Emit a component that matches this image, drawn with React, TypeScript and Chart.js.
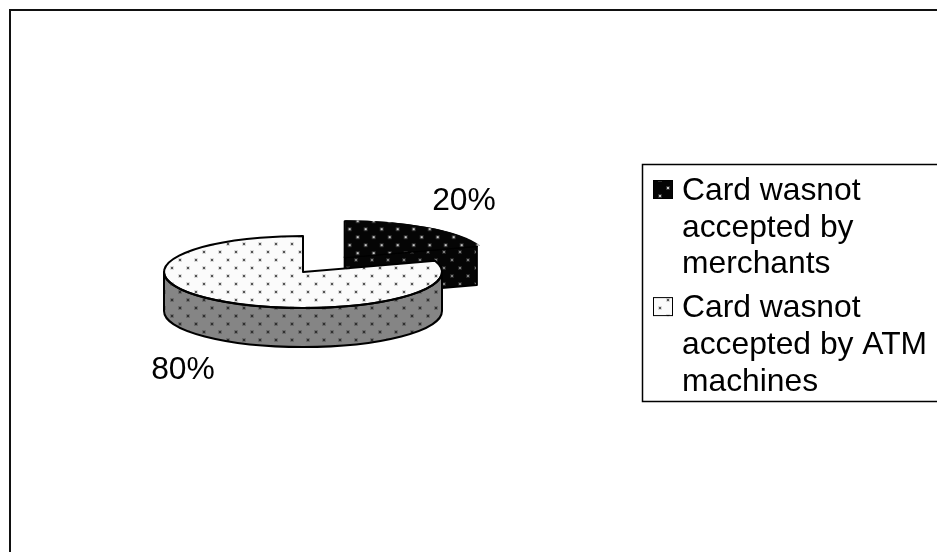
import React, { useEffect, useRef } from "react";
import { Chart, registerables } from "chart.js";

Chart.register(...registerables);

const categories = ["Card wasnot accepted by merchants", "Card wasnot accepted by ATM machines"];
const shares = [20, 80];
const slicePull = [204, 0];
const FONT = '31.8px "Liberation Sans", Arial, sans-serif';

const W = 937;
const H = 552;
// projection of the round pie onto the tilted ellipse
const CX = 303;
const CY = 272;
const SX = 1.39;
const SY = 0.36;
const DEPTH = 39;

function tile(bg: string, dot: string, soft: string) {
  const c = document.createElement("canvas");
  c.width = 16;
  c.height = 16;
  const g = c.getContext("2d")!;
  g.fillStyle = bg;
  g.fillRect(0, 0, 16, 16);
  for (const [x, y] of [[3, 3], [11, 11]]) {
    g.fillStyle = soft;
    g.fillRect(x - 1, y - 1, 4, 4);
    g.fillStyle = dot;
    g.fillRect(x, y, 2, 2);
  }
  return c;
}

function makePattern(ctx: CanvasRenderingContext2D, c: HTMLCanvasElement, projected: boolean) {
  const p = ctx.createPattern(c, "repeat")!;
  if (projected) {
    p.setTransform(new DOMMatrix().translate(CX, CY).scale(1 / SX, 1 / SY).translate(-CX, -CY));
  }
  return p;
}

function wallPath(ctx: CanvasRenderingContext2D, x: number, y: number, rx: number, ry: number, a0: number, a1: number) {
  ctx.beginPath();
  ctx.ellipse(x, y, rx, ry, 0, a0, a1);
  ctx.lineTo(x + rx * Math.cos(a1), y + ry * Math.sin(a1) + DEPTH);
  ctx.ellipse(x, y + DEPTH, rx, ry, 0, a1, a0, true);
  ctx.closePath();
}

function facePath(ctx: CanvasRenderingContext2D, x: number, y: number, ex: number, ey: number) {
  ctx.beginPath();
  ctx.moveTo(x, y);
  ctx.lineTo(ex, ey);
  ctx.lineTo(ex, ey + DEPTH);
  ctx.lineTo(x, y + DEPTH);
  ctx.closePath();
}

function sliceGeom(chart: any, i: number) {
  const arc = chart.getDatasetMeta(0).data[i];
  const { startAngle, endAngle, outerRadius } = arc.getProps(["startAngle", "endAngle", "outerRadius"], true);
  const mid = (startAngle + endAngle) / 2;
  const pull = (arc.options.offset || 0) / 4;
  const px = CX + Math.cos(mid) * pull * SX;
  const py = CY + Math.sin(mid) * pull * SY;
  return { x: px, y: py, rx: outerRadius * SX, ry: outerRadius * SY, startAngle, endAngle };
}

function drawWall(chart: any, i: number, fill: CanvasPattern | string) {
  const ctx: CanvasRenderingContext2D = chart.ctx;
  const g = sliceGeom(chart, i);
  ctx.save();
  ctx.fillStyle = fill;
  ctx.strokeStyle = "#000";
  ctx.lineWidth = 2;
  ctx.lineJoin = "round";
  const paint = () => {
    ctx.fill();
    ctx.stroke();
  };
  if (Math.cos(g.endAngle) > 0.001) {
    facePath(ctx, g.x, g.y, g.x + g.rx * Math.cos(g.endAngle), g.y + g.ry * Math.sin(g.endAngle));
    paint();
  }
  if (-Math.cos(g.startAngle) > 0.001) {
    facePath(ctx, g.x, g.y, g.x + g.rx * Math.cos(g.startAngle), g.y + g.ry * Math.sin(g.startAngle));
    paint();
  }
  const a0 = Math.max(g.startAngle, 0);
  const a1 = Math.min(g.endAngle, Math.PI);
  if (a1 > a0) {
    wallPath(ctx, g.x, g.y, g.rx, g.ry, a0, a1);
    paint();
  }
  ctx.restore();
}

function outlineTop(chart: any, i: number) {
  const ctx: CanvasRenderingContext2D = chart.ctx;
  const g = sliceGeom(chart, i);
  ctx.save();
  ctx.strokeStyle = "#000";
  ctx.lineWidth = 2;
  ctx.lineJoin = "round";
  ctx.beginPath();
  ctx.moveTo(g.x, g.y);
  ctx.ellipse(g.x, g.y, g.rx, g.ry, 0, g.startAngle, g.endAngle);
  ctx.closePath();
  ctx.stroke();
  ctx.restore();
}

function wrap(ctx: CanvasRenderingContext2D, text: string, maxWidth: number) {
  const lines: string[] = [];
  let cur = "";
  for (const w of text.split(" ")) {
    const next = cur ? cur + " " + w : w;
    if (ctx.measureText(next).width > maxWidth && cur) {
      lines.push(cur);
      cur = w;
    } else cur = next;
  }
  if (cur) lines.push(cur);
  return lines;
}

function makePlugin(wallFills: CanvasPattern[], swatches: CanvasPattern[]) {
  return {
    id: "pie3d",
    beforeDraw(chart: any) {
      const ctx: CanvasRenderingContext2D = chart.ctx;
      ctx.save();
      ctx.fillStyle = "#fff";
      ctx.fillRect(0, 0, W, H);
      ctx.strokeStyle = "#111";
      ctx.lineWidth = 2;
      ctx.beginPath();
      ctx.moveTo(10, H + 5);
      ctx.lineTo(10, 10);
      ctx.lineTo(W + 5, 10);
      ctx.stroke();
      ctx.restore();
    },
    beforeDatasetsDraw(chart: any) {
      const ctx: CanvasRenderingContext2D = chart.ctx;
      drawWall(chart, 0, wallFills[0]);
      outlineTop(chart, 0);
      const arc = chart.getDatasetMeta(0).data[0];
      ctx.save();
      ctx.translate(CX, CY);
      ctx.scale(SX, SY);
      ctx.translate(-arc.x, -arc.y);
    },
    afterDatasetsDraw(chart: any) {
      const ctx: CanvasRenderingContext2D = chart.ctx;
      ctx.restore();
      drawWall(chart, 1, wallFills[1]);
      outlineTop(chart, 1);

      // percentage labels
      const total = shares.reduce((a, b) => a + b, 0);
      const labelAt = [[464, 201], [183, 370]];
      ctx.save();
      ctx.font = FONT;
      ctx.fillStyle = "#000";
      ctx.textAlign = "center";
      ctx.textBaseline = "middle";
      shares.forEach((v, i) => {
        ctx.fillText(Math.round((v / total) * 100) + "%", labelAt[i][0], labelAt[i][1]);
      });
      ctx.restore();

      // legend
      ctx.save();
      ctx.fillStyle = "#fff";
      ctx.strokeStyle = "#000";
      ctx.lineWidth = 1.5;
      ctx.beginPath();
      ctx.rect(642.5, 164.5, 320, 237);
      ctx.fill();
      ctx.stroke();
      ctx.font = FONT;
      ctx.textAlign = "left";
      ctx.textBaseline = "alphabetic";
      let base = 200;
      categories.forEach((name, i) => {
        const lines = wrap(ctx, name, 254);
        ctx.fillStyle = swatches[i];
        ctx.fillRect(653, base - 20, 20, 19);
        ctx.lineWidth = 1;
        ctx.strokeRect(653.5, base - 19.5, 19, 18);
        ctx.fillStyle = "#000";
        lines.forEach((l, k) => ctx.fillText(l, 682, base + k * 36.7));
        base += lines.length * 36.7 + 7;
      });
      ctx.restore();
    },
  };
}

export default function App() {
  const ref = useRef<HTMLCanvasElement>(null);
  useEffect(() => {
    const canvas = ref.current!;
    const ctx = canvas.getContext("2d")!;
    const blackDots = tile("#050505", "#c8c8c8", "#303030");
    const whiteDots = tile("#fbfbfb", "#555555", "#dcdcdc");
    const blackWall = tile("#050505", "#808080", "#222222");
    const grayWall = tile("#858585", "#303030", "#6c6c6c");
    const topFills = [makePattern(ctx, blackDots, true), makePattern(ctx, whiteDots, true)];
    const wallFills = [makePattern(ctx, blackWall, false), makePattern(ctx, grayWall, false)];
    const swatches = [makePattern(ctx, blackDots, false), makePattern(ctx, whiteDots, false)];
    const chart = new Chart(canvas, {
      type: "pie",
      data: {
        labels: categories,
        datasets: [
          {
            data: shares,
            backgroundColor: topFills,
            borderWidth: 0,
            offset: slicePull,
          },
        ],
      },
      options: {
        responsive: false,
        animation: false,
        events: [],
        layout: { padding: { left: 101, right: W - 505, top: 70, bottom: H - 474 } },
        plugins: { legend: { display: false }, tooltip: { enabled: false } },
      },
      plugins: [makePlugin(wallFills, swatches)],
    } as any);
    return () => chart.destroy();
  }, []);
  return (
    <div style={{ position: "fixed", left: 0, top: 0, width: W, height: H, overflow: "hidden", background: "#fff" }}>
      <canvas ref={ref} width={W} height={H} style={{ display: "block", width: W, height: H }} />
    </div>
  );
}
